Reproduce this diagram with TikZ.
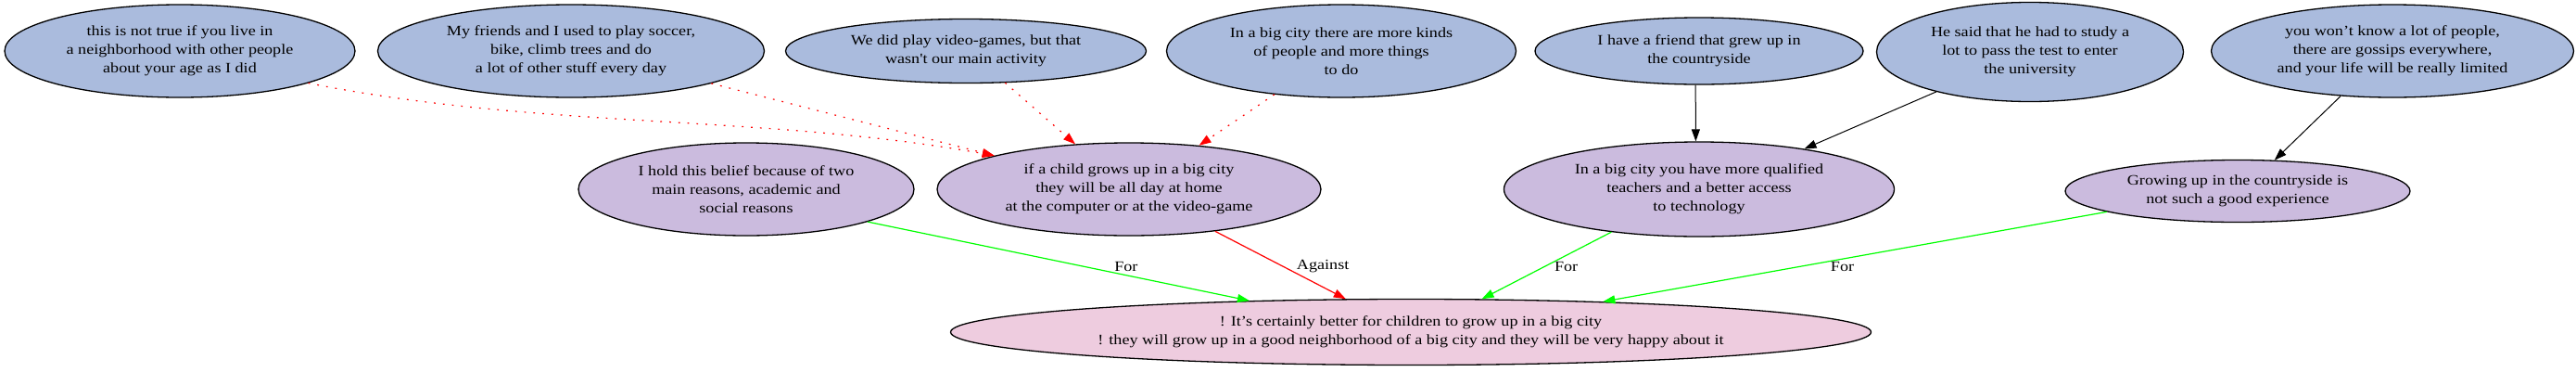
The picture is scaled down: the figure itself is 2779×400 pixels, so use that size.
\documentclass[tikz,border=0pt]{standalone}
\usepackage{fontspec}
\setmainfont{Liberation Serif}[FakeStretch=1.17]
\newfontfamily\straightfont{Liberation Serif}[FakeStretch=1.17]
\usetikzlibrary{shapes.geometric,arrows.meta}
\definecolor{blueF}{RGB}{170,187,221}
\definecolor{purpleF}{RGB}{203,187,222}
\definecolor{pinkF}{RGB}{238,204,223}
\begin{document}
\begin{tikzpicture}[x=1pt,y=-1pt,
  every node/.style={font=\fontsize{15.5}{20}\selectfont},
  arg/.style={ellipse, draw=black, line width=1.3pt, inner sep=0pt, align=center},
  premise/.style={arg, fill=blueF},
  claim/.style={arg, fill=purpleF},
  thesis/.style={arg, fill=pinkF},
  tip/.style={-{Triangle[length=13pt,width=9pt]}},
  support/.style={tip, draw=black, line width=1pt},
  attack/.style={tip, draw=red, line width=1.2pt, dash pattern=on 1.8pt off 8pt},
  againstE/.style={tip, draw=red, line width=1.2pt},
  forE/.style={tip, draw=green, line width=1.2pt},
  lbl/.style={text=black, inner sep=0pt}
]
\useasboundingbox (0,0) rectangle (2779,400);
\node[premise, minimum width=378pt, minimum height=100pt] (A1) at (194,55) {this is not true if you live in\\a neighborhood with other people\\about your age as I did};
\node[premise, minimum width=417pt, minimum height=100pt] (A2) at (616,55) {My friends and I used to play soccer,\\bike, climb trees and do\\a lot of other stuff every day};
\node[premise, minimum width=389pt, minimum height=69pt] (A3) at (1042,55) {We did play video-games, but that\\wasn{\straightfont '}t our main activity};
\node[premise, minimum width=377pt, minimum height=100pt] (A4) at (1447,55) {In a big city there are more kinds\\of people and more things\\to do};
\node[premise, minimum width=354pt, minimum height=72pt] (A5) at (1833,55) {I have a friend that grew up in\\the countryside};
\node[premise, minimum width=331pt, minimum height=107pt] (A6) at (2190,56) {He said that he had to study a\\lot to pass the test to enter\\the university};
\node[premise, minimum width=391pt, minimum height=100pt] (A7) at (2581,55) {you won’t know a lot of people,\\there are gossips everywhere,\\and your life will be really limited};
\node[claim, minimum width=362pt, minimum height=100pt] (B1) at (805,204) {I hold this belief because of two\\main reasons, academic and\\social reasons};
\node[claim, minimum width=414pt, minimum height=100pt] (B2) at (1218,204) {if a child grows up in a big city\\they will be all day at home\\at the computer or at the video-game};
\node[claim, minimum width=421pt, minimum height=102pt] (B3) at (1833,204) {In a big city you have more qualified\\teachers and a better access\\to technology};
\node[claim, minimum width=372pt, minimum height=67pt] (B4) at (2414,206) {Growing up in the countryside is\\not such a good experience};
\node[thesis, minimum width=993pt, minimum height=71pt] (C) at (1522,358) {! It’s certainly better for children to grow up in a big city\\! they will grow up in a good neighborhood of a big city and they will be very happy about it};
\draw[attack] (A1.-14.7) .. controls +(250,50) and +(-250,-45) .. (B2.166);
\draw[attack] (A2.-13.6) -- (B2.166);
\draw[attack] (A3.-39) -- (B2.140.4);
\draw[attack] (A4.-147.2) -- (B2.32.8);
\draw[support] (A5.-96) -- (B3.94.5);
\draw[support] (A6.-157.5) -- (B3.21.8);
\draw[support] (A7.-139.4) -- (B4.40);
\draw[forE] (B1.-15.1) -- node[lbl, pos=0.677, yshift=9.5pt] (L1) {For} (C.169.6);
\draw[againstE] (B2.-26.8) -- node[lbl, pos=0.52, xshift=43pt] (L2) {Against} (C.153.1);
\draw[forE] (B3.-154.2) -- node[lbl, pos=0.52, xshift=24pt] (L3) {For} (C.25.3);
\draw[forE] (B4.-171.1) -- node[lbl, pos=0.525, yshift=-8.5pt] (L4) {For} (C.9.4);
\end{tikzpicture}
\end{document}
